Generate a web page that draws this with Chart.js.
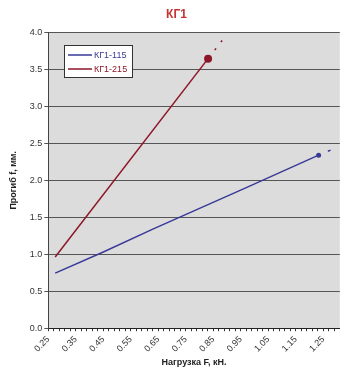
<!DOCTYPE html>
<html>
<head>
<meta charset="utf-8">
<script src="https://cdn.jsdelivr.net/npm/chart.js@4.4.0/dist/chart.umd.min.js"></script>
<style>
  html, body { margin: 0; padding: 0; background: #fff; }
  #wrap { width: 345px; height: 368px; }
</style>
</head>
<body>
<div id="wrap"><canvas id="myChart" width="345" height="368"></canvas></div>
<script>
// series: КГ1-115
var load115 = [0.275, 0.45, 0.63, 0.97, 1.233];
var defl115 = [0.745, 1.03, 1.34, 1.90, 2.34];
// series: КГ1-215
var load215 = [0.275, 0.831];
var defl215 = [0.963, 3.645];
// dashed extensions after the last point
var ext115x = [1.233, 1.280];
var ext115y = [2.34, 2.414];
var ext215x = [0.831, 0.884];
var ext215y = [3.645, 3.90];

var yTicks = [0, 0.5, 1, 1.5, 2, 2.5, 3, 3.5, 4];
var xLabels = ['0.25', '0.35', '0.45', '0.55', '0.65', '0.75', '0.85', '0.95', '1.05', '1.15', '1.25'];

var blue = '#3a3a98';
var red = '#8c1628';

function pts(xs, ys) {
    return xs.map(function (x, i) { return { x: x, y: ys[i] }; });
}
function lastOnly(n, r) {
    var a = [];
    for (var i = 0; i < n; i++) a.push(i === n - 1 ? r : 0);
    return a;
}

// plot area background
var plotBg = {
    id: 'plotBg',
    beforeDraw: function (chart) {
        var a = chart.chartArea, ctx = chart.ctx;
        ctx.save();
        ctx.fillStyle = '#dcdcdc';
        ctx.fillRect(a.left, a.top, a.right - a.left, a.bottom - a.top);
        ctx.restore();
    }
};

// legend box inside the plot
var boxLegend = {
    id: 'boxLegend',
    afterDraw: function (chart) {
        var ctx = chart.ctx;
        ctx.save();
        ctx.fillStyle = '#fff';
        ctx.fillRect(64.5, 45.5, 68, 32);
        ctx.strokeStyle = '#333';
        ctx.lineWidth = 1;
        ctx.strokeRect(64.5, 45.5, 68, 32);
        ctx.font = '9px "Liberation Sans", Arial, sans-serif';
        ctx.textBaseline = 'middle';
        [0, 1].forEach(function (i) {
            var ds = chart.data.datasets[i];
            var y = 55 + i * 14;
            ctx.strokeStyle = ds.borderColor;
            ctx.lineWidth = 1.5;
            ctx.beginPath();
            ctx.moveTo(68, y);
            ctx.lineTo(92, y);
            ctx.stroke();
            ctx.fillStyle = ds.borderColor;
            ctx.fillText(ds.label, 94, y + 0.5);
        });
        ctx.restore();
    }
};

var ctx = document.getElementById('myChart').getContext('2d');

var chart = new Chart(ctx, {
    type: 'scatter',
    data: {
        datasets: [{
            label: 'КГ1-115',
            data: pts(load115, defl115),
            showLine: true,
            borderColor: blue,
            backgroundColor: blue,
            borderWidth: 1.5,
            pointRadius: lastOnly(load115.length, 2.5),
            pointBorderWidth: 0
        },
        {
            label: 'КГ1-215',
            data: pts(load215, defl215),
            showLine: true,
            borderColor: red,
            backgroundColor: red,
            borderWidth: 1.5,
            pointRadius: lastOnly(load215.length, 4),
            pointBorderWidth: 0
        },
        {
            label: 'ext115',
            data: pts(ext115x, ext115y),
            showLine: true,
            borderColor: blue,
            borderWidth: 1.5,
            borderDash: [3, 10],
            borderDashOffset: 3,
            pointRadius: 0
        },
        {
            label: 'ext215',
            data: pts(ext215x, ext215y),
            showLine: true,
            borderColor: red,
            borderWidth: 1.5,
            borderDash: [2, 8],
            borderDashOffset: 9,
            pointRadius: 0
        }]
    },
    options: {
        responsive: false,
        animation: false,
        layout: { padding: { left: 8, right: 0, top: 0, bottom: 0 } },
        plugins: {
            legend: { display: false },
            tooltip: { enabled: false },
            title: {
                display: true,
                text: 'КГ1',
                color: '#c83232',
                font: { family: '"Liberation Sans", Arial, sans-serif', size: 12, weight: 'bold' },
                padding: { top: 7, bottom: 11 }
            }
        },
        scales: {
            x: {
                type: 'linear',
                min: 0.25,
                max: 1.31,
                afterBuildTicks: function (axis) {
                    var t = [];
                    for (var i = 0; i <= 52; i++) t.push({ value: 0.25 + i * 0.02 });
                    axis.ticks = t;
                },
                ticks: {
                    autoSkip: false,
                    minRotation: 45,
                    maxRotation: 45,
                    padding: 3,
                    color: '#333',
                    font: { family: '"Liberation Sans", Arial, sans-serif', size: 9 },
                    callback: function (v) {
                        var k = Math.round((v - 0.25) / 0.02);
                        return k % 5 === 0 && xLabels[k / 5] ? xLabels[k / 5] : '';
                    }
                },
                grid: {
                    drawOnChartArea: false,
                    tickLength: 3,
                    color: '#333'
                },
                border: { color: '#222', width: 1 },
                title: {
                    display: true,
                    text: 'Нагрузка F, кН.',
                    color: '#222',
                    padding: { top: 0, bottom: 0 },
                    font: { family: '"Liberation Sans", Arial, sans-serif', size: 9, weight: 'bold' }
                }
            },
            y: {
                min: 0,
                max: 4,
                afterBuildTicks: function (axis) {
                    axis.ticks = yTicks.map(function (v) { return { value: v }; });
                },
                ticks: {
                    padding: 2,
                    color: '#333',
                    font: { family: '"Liberation Sans", Arial, sans-serif', size: 9 },
                    callback: function (v) { return v.toFixed(1); }
                },
                grid: {
                    color: '#555',
                    tickLength: 4
                },
                border: { color: '#444', width: 1 },
                title: {
                    display: true,
                    text: 'Прогиб f, мм.',
                    color: '#222',
                    padding: { top: 0, bottom: 9 },
                    font: { family: '"Liberation Sans", Arial, sans-serif', size: 9, weight: 'bold' }
                }
            }
        }
    },
    plugins: [plotBg, boxLegend]
});
</script>
</body>
</html>
